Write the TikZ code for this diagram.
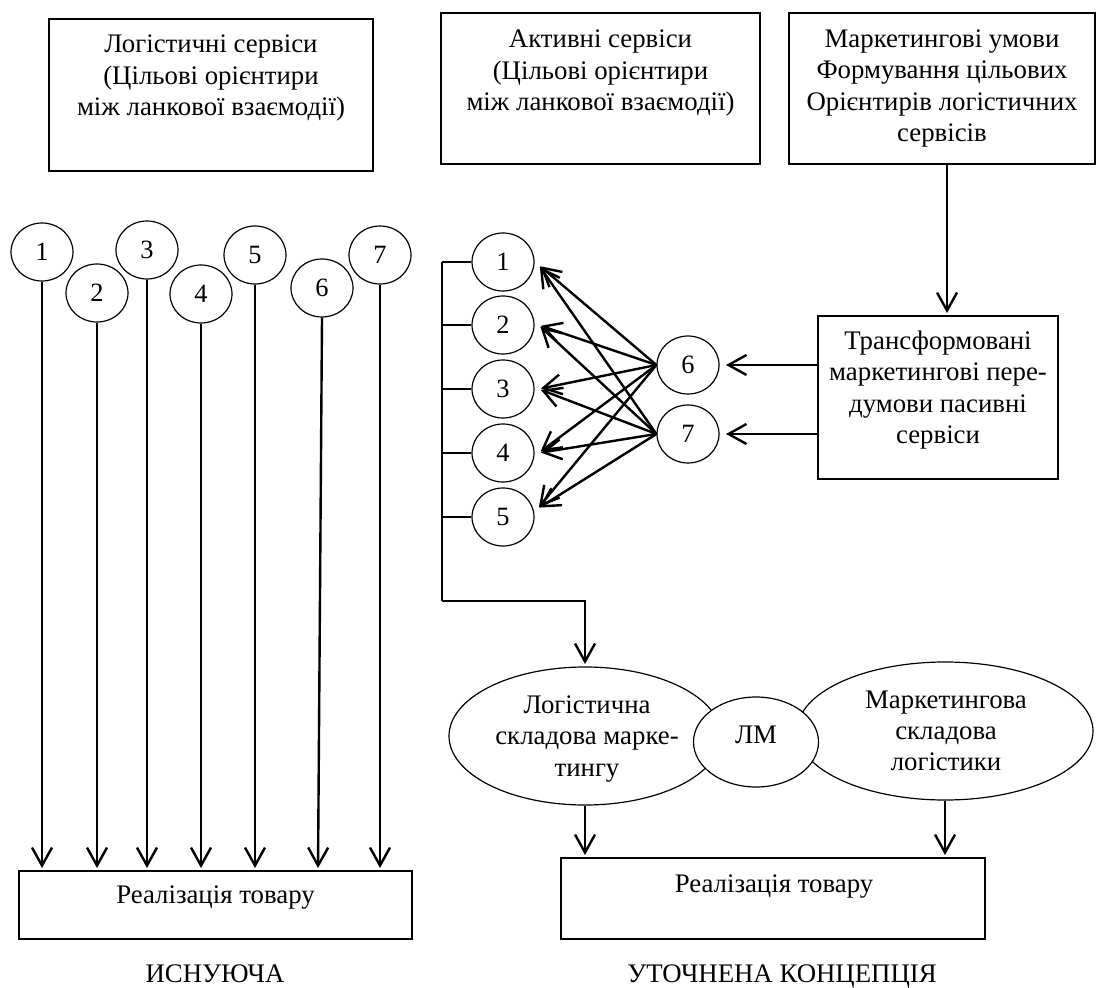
\documentclass[tikz,border=0pt]{standalone}
\usepackage{fontspec}
\setmainfont{Liberation Serif}
\usetikzlibrary{arrows.meta,shapes.geometric}
\begin{document}
\begin{tikzpicture}[x=0.5pt,y=-0.5pt,
  box/.style={draw, line width=0.6pt, inner sep=0pt},
  txt/.style={align=center, font=\fontsize{13.4}{15.6}\selectfont, inner sep=0pt},
  circ/.style={draw, ellipse, line width=0.6pt, minimum width=31pt, minimum height=29pt, inner sep=0pt, font=\fontsize{13.2}{15}\selectfont},
  ell/.style={draw, ellipse, line width=0.6pt, inner sep=0pt},
  arr/.style={line width=1.2pt, shorten >=1.2pt, -{Straight Barb[length=9pt,width=10pt]}},
  link/.style={line width=0.6pt},
  trunk/.style={line width=1pt}
]
\useasboundingbox (0,0) rectangle (1096,988);

% ---------- left part ----------
\node[box, minimum width=162pt, minimum height=76pt] (b1) at (211,95) {};
\node[txt] (t1) at (211,78) {Логістичні сервіси\\(Цільові орієнтири\\між ланкової взаємодії)};

\node[circ] (cL1) at (42,252) {1};
\node[circ] (cL2) at (97,293) {2};
\node[circ] (cL3) at (147,250) {3};
\node[circ] (cL4) at (201,294) {4};
\node[circ] (cL5) at (255,255) {5};
\node[circ] (cL6) at (322,288) {6};
\node[circ] (cL7) at (380,255) {7};

\node[box, minimum width=196.5pt, minimum height=34pt] (bl) at (215.5,905) {};
\node[txt] (tbl) at (215.5,898) {Реалізація товару};

\foreach \i in {1,2,3,4,5,7}
  \draw[arr] (cL\i.south) -- (cL\i.south |- bl.north);
\draw[arr] (cL6.south) -- ([xshift=-2pt]cL6.south |- bl.north);

\node[txt, anchor=base] (lab1) at (215,982) {ИСНУЮЧА};

% ---------- right part ----------
\node[box, minimum width=159.5pt, minimum height=75.5pt] (b2) at (600.5,88.5) {};
\node[txt] (t2) at (600.5,73) {Активні сервіси\\(Цільові орієнтири\\між ланкової взаємодії)};

\node[box, minimum width=153pt, minimum height=75.5pt] (b3) at (942,88.5) {};
\node[txt] (t3) at (942,88.5) {Маркетингові умови\\Формування цільових\\Орієнтирів логістичних\\сервісів};

\node[box, minimum width=120pt, minimum height=81.5pt] (tr) at (938,397.5) {};
\node[txt] (ttr) at (938,390) {Трансформовані\\маркетингові пере-\\думови пасивні\\сервіси};

\draw[arr] ([xshift=2.5pt]b3.south) -- ([xshift=2.5pt]b3.south |- tr.north);

\node[circ] (lR1) at (503,262) {1};
\node[circ] (lR2) at (503,325) {2};
\node[circ] (lR3) at (503,389) {3};
\node[circ] (lR4) at (503,453) {4};
\node[circ] (lR5) at (503,517) {5};
\node[circ] (c6) at (688,365) {6};
\node[circ] (c7) at (688,434) {7};

\draw[arr] (tr.west |- c6) -- ([xshift=2pt]c6.east);
\draw[arr] (tr.west |- c7) -- ([xshift=2pt]c7.east);

\foreach \s in {6,7}
  \foreach \t/\a in {1/355,2/0,3/0,4/0,5/15}
    \draw[arr] (c\s.west) -- ([xshift=2pt]lR\t.\a);

\coordinate (vtop) at (442,262);
\coordinate (vbot) at (442,601);
\foreach \i in {1,...,5}
  \draw[link] (lR\i.west) -- (lR\i.west -| vtop);

% ellipses
\node[ell, minimum width=136pt, minimum height=69pt] (el1) at (585,736) {};
\node[ell, minimum width=148pt, minimum height=69pt] (el2) at (945,731) {};
\node[ell, fill=white, minimum width=62.5pt, minimum height=45pt] (lm) at (756,742) {};
\node[txt] (tlm) at (756,735) {ЛМ};
\node[txt] (tel1) at (587,739) {Логістична\\складова марке-\\тингу};
\node[txt] (tel2) at (946,731) {Маркетингова\\складова\\логістики};

\draw[trunk] (vtop) -- (vbot);
\draw[arr] (vbot) -| (el1.north);

\node[box, minimum width=212pt, minimum height=40.5pt] (rb) at (773,898.5) {};
\node[txt] (trb) at (774,887) {Реалізація товару};

\draw[arr] (el1.south) -- (el1.south |- rb.north);
\draw[arr] (el2.south) -- (el2.south |- rb.north);

\node[txt, anchor=base] (lab2) at (782,982) {УТОЧНЕНА КОНЦЕПЦІЯ};
\end{tikzpicture}
\end{document}
